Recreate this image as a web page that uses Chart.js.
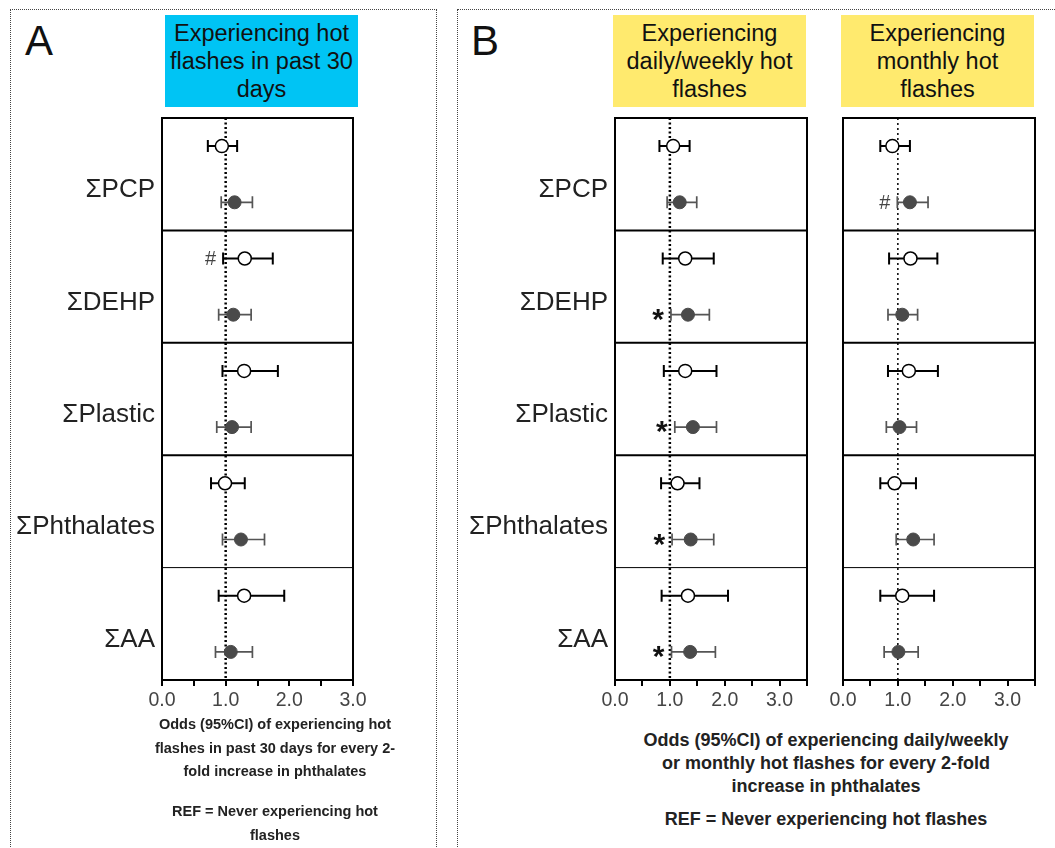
<!DOCTYPE html>
<html>
<head>
<meta charset="utf-8">
<script src="https://cdn.jsdelivr.net/npm/chart.js@4.4.1/dist/chart.umd.min.js"></script>
<style>
  body { margin: 0; background: #fff; font-family: 'Liberation Sans', Arial, sans-serif; color: #111; }
  #wrap { position: relative; width: 1055px; height: 848px; overflow: hidden; }
  .frame { position: absolute; border: 1px dotted #444; }
  .letter { position: absolute; font-size: 42px; line-height: 42px; color: #111; }
  .head { position: absolute; top: 15px; height: 92px; width: 193px; text-align: center;
          font-size: 23.5px; line-height: 28px; padding-top: 4px; box-sizing: border-box; color: #111; }
  .blue { background: #00c4f4; }
  .yellow { background: #ffea6e; }
  .note { position: absolute; text-align: center; font-weight: bold; color: #222; }
  .noteA { font-size: 14.5px; line-height: 23.5px; }
  .noteB { font-size: 18px; line-height: 23px; }
  canvas { position: absolute; }
</style>
</head>
<body>
<div id="wrap">
  <div class="frame" style="left:10px; top:9px; width:425px; height:860px;"></div>
  <div class="frame" style="left:457px; top:9px; width:620px; height:860px;"></div>

  <div class="letter" style="left:25px; top:20px;">A</div>
  <div class="letter" style="left:471px; top:20px;">B</div>

  <div class="head blue" style="left:165px;">Experiencing hot<br>flashes in past 30<br>days</div>
  <div class="head yellow" style="left:613px;">Experiencing<br>daily/weekly hot<br>flashes</div>
  <div class="head yellow" style="left:841px;">Experiencing<br>monthly hot<br>flashes</div>

  <canvas id="chartA" width="358" height="620" style="left:12px; top:108px;"></canvas>
  <canvas id="chartB" width="370" height="620" style="left:455px; top:108px;"></canvas>
  <canvas id="chartC" width="230" height="620" style="left:825px; top:108px;"></canvas>

  <div class="note noteA" style="left:140px; top:713px; width:270px;">Odds (95%CI) of experiencing hot<br>flashes in past 30 days for every 2-<br>fold increase in phthalates</div>
  <div class="note noteA" style="left:140px; top:800px; width:270px;">REF = Never experiencing hot<br>flashes</div>
  <div class="note noteB" style="left:596px; top:729px; width:460px;">Odds (95%CI) of experiencing daily/weekly<br>or monthly hot flashes for every 2-fold<br>increase in phthalates</div>
  <div class="note noteB" style="left:596px; top:808px; width:460px;">REF = Never experiencing hot flashes</div>
</div>

<script>
const categories = ['ΣPCP', 'ΣDEHP', 'ΣPlastic', 'ΣPhthalates', 'ΣAA'];

// A: hot flashes in past 30 days (open = first estimate, filled = second)
const aOpenOR = [0.94, 1.30, 1.29, 0.99, 1.29];
const aOpenLo = [0.72, 0.96, 0.95, 0.77, 0.89];
const aOpenHi = [1.18, 1.74, 1.82, 1.30, 1.92];
const aFillOR = [1.14, 1.12, 1.10, 1.24, 1.08];
const aFillLo = [0.93, 0.89, 0.86, 0.95, 0.84];
const aFillHi = [1.42, 1.40, 1.40, 1.61, 1.42];

// B: daily/weekly hot flashes
const bOpenOR = [1.06, 1.28, 1.28, 1.14, 1.33];
const bOpenLo = [0.81, 0.87, 0.89, 0.84, 0.85];
const bOpenHi = [1.36, 1.80, 1.85, 1.54, 2.06];
const bFillOR = [1.18, 1.33, 1.42, 1.38, 1.37];
const bFillLo = [0.95, 1.02, 1.09, 1.04, 1.03];
const bFillHi = [1.49, 1.72, 1.85, 1.80, 1.83];

// C: monthly hot flashes
const cOpenOR = [0.90, 1.23, 1.20, 0.94, 1.08];
const cOpenLo = [0.68, 0.84, 0.82, 0.68, 0.68];
const cOpenHi = [1.22, 1.72, 1.73, 1.33, 1.66];
const cFillOR = [1.22, 1.08, 1.03, 1.28, 1.01];
const cFillLo = [0.99, 0.82, 0.79, 0.97, 0.75];
const cFillHi = [1.55, 1.36, 1.34, 1.66, 1.37];

// significance marks: [row, series ('open'|'fill'), symbol]
const aMarks = [[1, 'open', '#']];
const bMarks = [[1, 'fill', '*'], [2, 'fill', '*'], [3, 'fill', '*'], [4, 'fill', '*']];
const cMarks = [[0, 'fill', '#']];

const xTicksA = [0, 1, 2, 3];
const xTicksB = [0, 1, 2, 3];

Chart.defaults.font.family = "'Liberation Sans', Arial, sans-serif";

const OPEN_Y = 0.25, FILL_Y = 0.75, LABEL_Y = 0.64;

function forestChart(id, p) {
  const forestPlugin = {
    id: 'forest',
    beforeDatasetsDraw(chart) {
      const { ctx, chartArea: a, scales: { x, y } } = chart;
      ctx.save();
      // row separators, the last one is thinner
      for (let i = 1; i < categories.length; i++) {
        const py = y.getPixelForValue(i);
        ctx.beginPath();
        ctx.strokeStyle = '#000';
        ctx.lineWidth = i === categories.length - 1 ? 1 : 2;
        ctx.moveTo(a.left, py);
        ctx.lineTo(a.right, py);
        ctx.stroke();
      }
      // reference line at OR = 1
      const rx = x.getPixelForValue(1);
      ctx.beginPath();
      ctx.setLineDash(p.refDash);
      ctx.lineWidth = p.refWidth;
      ctx.moveTo(rx, a.top);
      ctx.lineTo(rx, a.bottom);
      ctx.stroke();
      ctx.setLineDash([]);

      // whiskers
      const whisk = (lo, hi, off, color, lw) => {
        ctx.strokeStyle = color;
        ctx.lineWidth = lw;
        lo.forEach((l, i) => {
          const py = y.getPixelForValue(i + off);
          const x1 = x.getPixelForValue(l), x2 = x.getPixelForValue(hi[i]);
          ctx.beginPath();
          ctx.moveTo(x1, py); ctx.lineTo(x2, py);
          ctx.moveTo(x1, py - 6); ctx.lineTo(x1, py + 6);
          ctx.moveTo(x2, py - 6); ctx.lineTo(x2, py + 6);
          ctx.stroke();
        });
      };
      whisk(p.openLo, p.openHi, OPEN_Y, '#000', 2);
      whisk(p.fillLo, p.fillHi, FILL_Y, '#555', 1.7);
      ctx.restore();
    },
    afterDraw(chart) {
      const { ctx, chartArea: a, scales: { x, y } } = chart;
      ctx.save();
      ctx.strokeStyle = '#000';
      ctx.lineWidth = 2;
      ctx.strokeRect(a.left, a.top, a.right - a.left, a.bottom - a.top);
      ctx.textAlign = 'right';
      ctx.textBaseline = 'middle';
      p.marks.forEach(([row, s, sym]) => {
        const lo = s === 'open' ? p.openLo[row] : p.fillLo[row];
        const py = y.getPixelForValue(row + (s === 'open' ? OPEN_Y : FILL_Y));
        if (sym === '*') {
          ctx.font = 'bold 30px "Liberation Sans", Arial';
          ctx.fillStyle = '#111';
          ctx.fillText(sym, x.getPixelForValue(lo) - 7, py + 6);
        } else {
          ctx.font = '20px "Liberation Sans", Arial';
          ctx.fillStyle = '#444';
          ctx.fillText(sym, x.getPixelForValue(lo) - 7, py + 1);
        }
      });
      ctx.restore();
    }
  };

  return new Chart(document.getElementById(id), {
    type: 'scatter',
    data: {
      datasets: [
        {
          data: p.openOR.map((v, i) => ({ x: v, y: i + OPEN_Y })),
          pointRadius: 6.5, pointBackgroundColor: '#fff', pointBorderColor: '#000', pointBorderWidth: 1.5
        },
        {
          data: p.fillOR.map((v, i) => ({ x: v, y: i + FILL_Y })),
          pointRadius: 6.5, pointBackgroundColor: '#4a4a4a', pointBorderColor: '#4a4a4a', pointBorderWidth: 1
        }
      ]
    },
    options: {
      responsive: false,
      animation: false,
      layout: { padding: { top: 10, right: p.padRight, left: 0, bottom: 0 } },
      plugins: { legend: { display: false }, tooltip: { enabled: false } },
      scales: {
        x: {
          type: 'linear', min: 0, max: p.xMax,
          ticks: {
            stepSize: 0.5, padding: 3, color: '#444', font: { size: 19.5 },
            maxRotation: 0, minRotation: 0, autoSkip: false,
            callback: v => p.xTicks.includes(v) ? v.toFixed(1) : ''
          },
          grid: { drawOnChartArea: false, drawTicks: true, tickLength: 6, color: '#000', lineWidth: 2 },
          border: { display: false },
          afterFit: s => { s.height = 48; s.paddingLeft = 0; s.paddingRight = 0; }
        },
        y: {
          type: 'linear', min: 0, max: categories.length, reverse: true,
          afterBuildTicks: s => { s.ticks = categories.map((c, i) => ({ value: i + LABEL_Y })); },
          ticks: {
            display: p.showLabels, padding: 7, color: '#222', font: { size: p.labelSize },
            callback: (v, i) => categories[i]
          },
          grid: { display: false, drawTicks: false },
          border: { display: false },
          afterFit: s => { s.width = p.yWidth; s.paddingTop = 0; s.paddingBottom = 0; }
        }
      }
    },
    plugins: [forestPlugin]
  });
}

forestChart('chartA', {
  openOR: aOpenOR, openLo: aOpenLo, openHi: aOpenHi,
  fillOR: aFillOR, fillLo: aFillLo, fillHi: aFillHi,
  marks: aMarks, xMax: 3, xTicks: xTicksA, yWidth: 150, padRight: 17,
  showLabels: true, labelSize: 26, refDash: [2, 2.5], refWidth: 2.5
});
forestChart('chartB', {
  openOR: bOpenOR, openLo: bOpenLo, openHi: bOpenHi,
  fillOR: bFillOR, fillLo: bFillLo, fillHi: bFillHi,
  marks: bMarks, xMax: 3.5, xTicks: xTicksB, yWidth: 160, padRight: 18,
  showLabels: true, labelSize: 26, refDash: [2, 2.5], refWidth: 2.5
});
forestChart('chartC', {
  openOR: cOpenOR, openLo: cOpenLo, openHi: cOpenHi,
  fillOR: cFillOR, fillLo: cFillLo, fillHi: cFillHi,
  marks: cMarks, xMax: 3.5, xTicks: xTicksB, yWidth: 18, padRight: 20,
  showLabels: false, labelSize: 26, refDash: [2, 3], refWidth: 1.5
});
</script>
</body>
</html>
